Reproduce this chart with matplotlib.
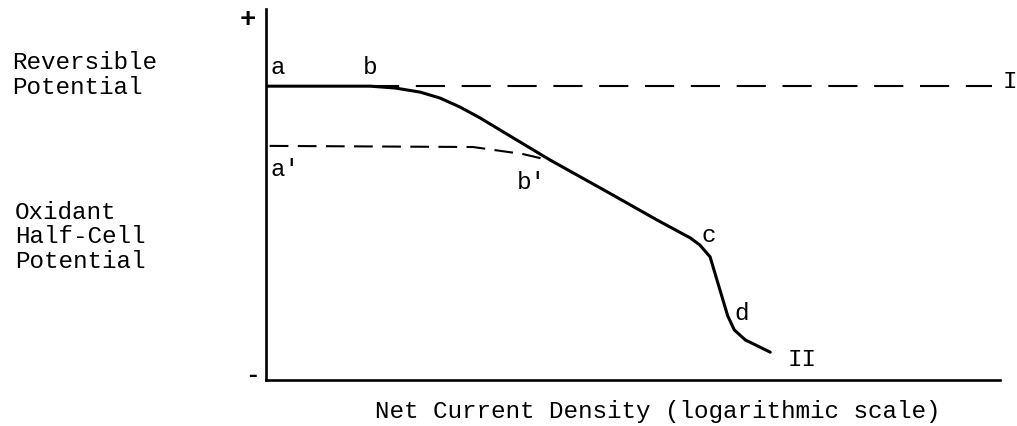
import matplotlib
matplotlib.use("Agg")
import matplotlib.pyplot as plt

# Curve I/II (solid): potential vs log current density (arbitrary units)
curve_x = [0, 14.2, 17.6, 21.0, 23.7, 26.4, 29.2, 32.8, 38.7, 46.5, 53.3, 57.8,
           59.1, 60.5, 61.6, 62.9, 63.8, 65.3, 68.7]
curve_y = [79.2, 79.2, 78.7, 77.6, 76.0, 73.6, 70.6, 66.3, 59.3, 50.7, 43.1, 38.3,
           36.4, 33.2, 25.9, 17.3, 13.5, 10.8, 7.5]

# Reversible potential extension (dashed, line I)
rev_x = [14.2, 98.9]
rev_y = [79.2, 79.2]

# Lower dashed curve a'-b'
low_x = [0.5, 28.2, 35.0, 39.1]
low_y = [63.1, 62.8, 60.9, 59.0]

# Point labels
labels = ["a", "b", "a'", "b'", "c", "d", "II", "I"]
label_x = [1.6, 14.2, 2.6, 36.2, 60.3, 64.8, 73.0, 101.4]
label_y = [84.6, 84.6, 56.9, 53.6, 39.3, 18.3, 5.9, 80.8]

FONT = "Liberation Mono"
FS = 17.5

fig = plt.figure(figsize=(10.17, 4.27), dpi=100)
ax = fig.add_axes([266 / 1017, (427 - 381) / 427, 734 / 1017, 371 / 427])
ax.set_xlim(0, 100)
ax.set_ylim(0, 100)
for s in ["top", "right"]:
    ax.spines[s].set_visible(False)
for s in ["left", "bottom"]:
    ax.spines[s].set_linewidth(1.9)
    ax.spines[s].set_color("black")
ax.set_xticks([])
ax.set_yticks([])

ax.plot(curve_x, curve_y, color="black", lw=2.2, solid_capstyle="round",
        solid_joinstyle="round")
ax.plot(rev_x, rev_y, color="black", lw=1.5, dashes=(14, 8))
ax.plot(low_x, low_y, color="black", lw=1.5, dashes=(9, 4.5))

for t, x, y in zip(labels, label_x, label_y):
    ax.text(x, y, t, fontsize=FS, family=FONT, ha="center", va="center",
            clip_on=False)

ax.text(-2.5, 97.3, "+", fontsize=FS + 2, family=FONT, weight="bold",
        ha="center", va="center", clip_on=False)
ax.text(-1.9, 1.5, "-", fontsize=FS, family=FONT, weight="bold",
        ha="center", va="center", clip_on=False)

fig.text(12 / 1017, 1 - 75 / 427, "Reversible\nPotential", fontsize=FS,
         family=FONT, ha="left", va="center", linespacing=1.09)
fig.text(15 / 1017, 1 - 237 / 427, "Oxidant\nHalf-Cell\nPotential", fontsize=FS,
         family=FONT, ha="left", va="center", linespacing=1.09)
fig.text(658 / 1017, 1 - 412 / 427, "Net Current Density (logarithmic scale)",
         fontsize=FS, family=FONT, ha="center", va="center")

fig.savefig("out.png", dpi=100)
